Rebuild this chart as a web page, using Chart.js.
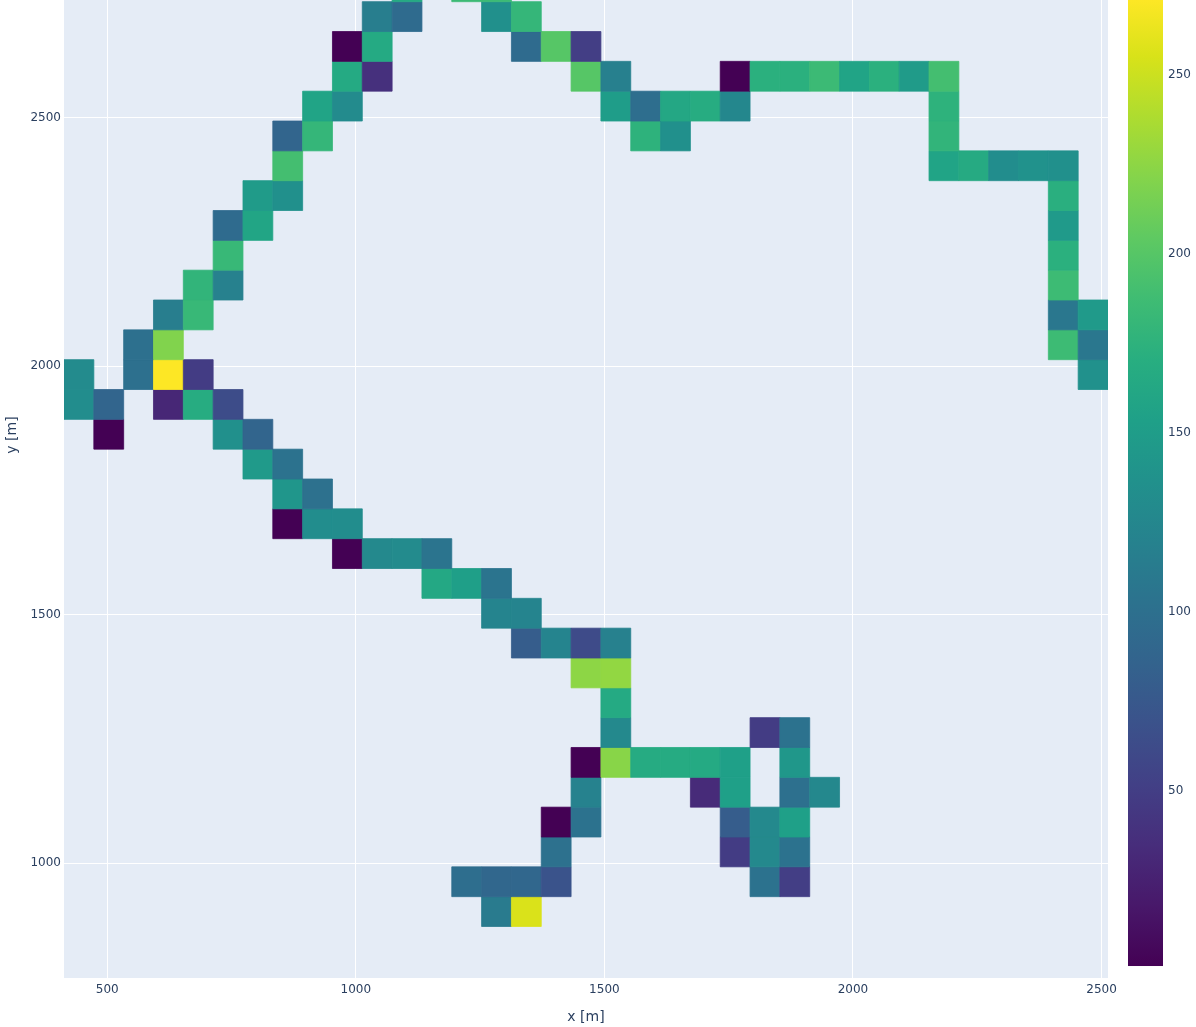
<!DOCTYPE html>
<html>
<head>
<meta charset="utf-8">
<title>Heatmap</title>
<script src="https://cdn.jsdelivr.net/npm/chart.js@4.4.0/dist/chart.umd.min.js"></script>
<style>
    html, body { margin: 0; padding: 0; background: #fff; }
    #wrap { width: 1196px; height: 1027px; }
</style>
</head>
<body>
<div id="wrap"><canvas id="heat" width="1196" height="1027"></canvas></div>
<script>
// Cell centres [m] and values (bottom to top)
const cellX = [
    1283, 1343,
    1223, 1283, 1343, 1403, 1823, 1883,
    1403, 1763, 1823, 1883,
    1403, 1463, 1763, 1823, 1883,
    1463, 1703, 1763, 1883, 1943,
    1463, 1523, 1583, 1643, 1703, 1763, 1883,
    1523, 1823, 1883,
    1523,
    1463, 1523,
    1343, 1403, 1463, 1523,
    1283, 1343,
    1163, 1223, 1283,
    983, 1043, 1103, 1163,
    863, 923, 983,
    863, 923,
    803, 863,
    503, 743, 803,
    443, 503, 623, 683, 743,
    443, 563, 623, 683, 2483,
    563, 623, 2423, 2483,
    623, 683, 2423, 2483,
    683, 743, 2423,
    743, 2423,
    743, 803, 2423,
    803, 863, 2423,
    863, 2183, 2243, 2303, 2363, 2423,
    863, 923, 1583, 1643, 2183,
    923, 983, 1523, 1583, 1643, 1703, 1763, 2183,
    983, 1043, 1463, 1523, 1763, 1823, 1883, 1943, 2003, 2063, 2123, 2183,
    983, 1043, 1343, 1403, 1463,
    1043, 1103, 1283, 1343,
    1103, 1223, 1283
];
const cellY = [
    903, 903,
    963, 963, 963, 963, 963, 963,
    1023, 1023, 1023, 1023,
    1083, 1083, 1083, 1083, 1083,
    1143, 1143, 1143, 1143, 1143,
    1203, 1203, 1203, 1203, 1203, 1203, 1203,
    1263, 1263, 1263,
    1323,
    1383, 1383,
    1443, 1443, 1443, 1443,
    1503, 1503,
    1563, 1563, 1563,
    1623, 1623, 1623, 1623,
    1683, 1683, 1683,
    1743, 1743,
    1803, 1803,
    1863, 1863, 1863,
    1923, 1923, 1923, 1923, 1923,
    1983, 1983, 1983, 1983, 1983,
    2043, 2043, 2043, 2043,
    2103, 2103, 2103, 2103,
    2163, 2163, 2163,
    2223, 2223,
    2283, 2283, 2283,
    2343, 2343, 2343,
    2403, 2403, 2403, 2403, 2403, 2403,
    2463, 2463, 2463, 2463, 2463,
    2523, 2523, 2523, 2523, 2523, 2523, 2523, 2523,
    2583, 2583, 2583, 2583, 2583, 2583, 2583, 2583, 2583, 2583, 2583, 2583,
    2643, 2643, 2643, 2643, 2643,
    2703, 2703, 2703, 2703,
    2763, 2763, 2763
];
const cellZ = [
    112, 256,
    98, 90, 90, 70, 103, 50,
    101, 48, 128, 103,
    1, 103, 80, 128, 154,
    120, 33, 154, 100, 126,
    1, 223, 167, 167, 165, 154, 143,
    128, 48, 103,
    165,
    225, 227,
    80, 122, 62, 118,
    122, 122,
    163, 152, 105,
    1, 128, 130, 105,
    1, 132, 132,
    142, 101,
    147, 103,
    1, 135, 88,
    132, 88, 30, 168, 63,
    130, 100, 271, 48, 137,
    100, 220, 186, 108,
    115, 182, 108, 147,
    178, 118, 186,
    182, 173,
    95, 160, 147,
    148, 135, 172,
    190, 158, 166, 132, 138, 135,
    88, 180, 175, 135, 178,
    158, 130, 150, 98, 162, 168, 125, 175,
    165, 38, 200, 117, 1, 173, 173, 185, 158, 173, 148, 190,
    1, 165, 95, 200, 50,
    115, 95, 135, 180,
    165, 185, 185
];

const xTicks = [500, 1000, 1500, 2000, 2500];
const yTicks = [1000, 1500, 2000, 2500];
const colorTicks = [50, 100, 150, 200, 250];

const zMin = 1;
const zMax = 271;
const cellSize = 60; // metres per cell

// plotly Viridis
const viridisStops = [
    [0, '#440154'], [0.0627, '#48186a'], [0.1255, '#472d7b'], [0.1882, '#424086'],
    [0.2510, '#3b528b'], [0.3137, '#33638d'], [0.3765, '#2c728e'], [0.4392, '#26828e'],
    [0.5020, '#21918c'], [0.5647, '#1fa088'], [0.6275, '#28ae80'], [0.6902, '#3fbc73'],
    [0.7529, '#5ec962'], [0.8157, '#84d44b'], [0.8784, '#addc30'], [0.9412, '#d8e219'],
    [1, '#fde725']
];

function hexRgb(h) {
    return [1, 3, 5].map(i => parseInt(h.slice(i, i + 2), 16));
}

function viridis(z) {
    const t = Math.min(1, Math.max(0, (z - zMin) / (zMax - zMin)));
    for (let k = 1; k < viridisStops.length; k++) {
        if (t <= viridisStops[k][0]) {
            const [t0, c0] = viridisStops[k - 1];
            const [t1, c1] = viridisStops[k];
            const f = (t - t0) / (t1 - t0);
            const a = hexRgb(c0), b = hexRgb(c1);
            const c = a.map((v, i) => Math.round(v + (b[i] - v) * f));
            return `rgb(${c[0]}, ${c[1]}, ${c[2]})`;
        }
    }
    return viridisStops[viridisStops.length - 1][1];
}

// side of one cell in pixels, taken from the x scale
function cellRadius(ctx) {
    const s = ctx.chart.scales.x;
    const side = Math.abs(s.getPixelForValue(cellSize) - s.getPixelForValue(0));
    return side / Math.SQRT2;
}

const textColor = '#2a3f5f';
const tickFont = { family: 'DejaVu Sans', size: 12 };

const plotBackground = {
    id: 'plotBackground',
    beforeDraw(chart) {
        const { ctx, chartArea: a } = chart;
        ctx.save();
        ctx.fillStyle = '#E5ECF6';
        ctx.fillRect(a.left, a.top, a.right - a.left, a.bottom - a.top);
        ctx.restore();
    }
};

const colorBar = {
    id: 'colorBar',
    afterDraw(chart) {
        const { ctx } = chart;
        const cb = chart.scales.c;
        const top = cb.getPixelForValue(zMax);
        const bottom = cb.getPixelForValue(zMin);
        const grad = ctx.createLinearGradient(0, bottom, 0, top);
        viridisStops.forEach(([t, c]) => grad.addColorStop(t, c));
        ctx.save();
        ctx.fillStyle = grad;
        ctx.fillRect(cb.left + 20, top, 35, bottom - top);
        ctx.restore();
    }
};

const yTitle = {
    id: 'yTitle',
    afterDraw(chart) {
        const { ctx } = chart;
        ctx.save();
        ctx.translate(12.5, 435);
        ctx.rotate(-Math.PI / 2);
        ctx.fillStyle = textColor;
        ctx.font = '14px "DejaVu Sans"';
        ctx.textAlign = 'center';
        ctx.textBaseline = 'middle';
        ctx.fillText('y [m]', 0, 0);
        ctx.restore();
    }
};

function noPadding(scale) {
    scale.paddingTop = 0;
    scale.paddingBottom = 0;
    scale.paddingLeft = 0;
    scale.paddingRight = 0;
}

const ctx = document.getElementById('heat').getContext('2d');
new Chart(ctx, {
    type: 'scatter',
    data: {
        datasets: [{
            data: cellX.map((x, i) => ({ x: x, y: cellY[i], z: cellZ[i] })),
            pointStyle: 'rect',
            pointRadius: cellRadius,
            pointHoverRadius: cellRadius,
            pointBackgroundColor: c => viridis(c.raw.z),
            pointBorderColor: c => viridis(c.raw.z),
            pointBorderWidth: 0.8,
            clip: 0
        }]
    },
    options: {
        responsive: false,
        animation: false,
        devicePixelRatio: 1,
        events: [],
        layout: { padding: 0 },
        plugins: {
            legend: { display: false },
            tooltip: { enabled: false }
        },
        scales: {
            x: {
                type: 'linear',
                position: 'bottom',
                min: 413,
                max: 2513,
                afterBuildTicks: s => { s.ticks = xTicks.map(v => ({ value: v })); },
                afterFit: s => { s.height = 49; noPadding(s); },
                grid: { color: '#ffffff', lineWidth: 1, drawTicks: false },
                border: { display: false },
                ticks: {
                    padding: 5,
                    color: textColor,
                    font: tickFont,
                    maxRotation: 0,
                    autoSkip: false,
                    callback: v => String(v)
                },
                title: {
                    display: true,
                    text: 'x [m]',
                    color: textColor,
                    font: { family: 'DejaVu Sans', size: 14 },
                    padding: { top: 0, bottom: 1.5 }
                }
            },
            y: {
                type: 'linear',
                position: 'left',
                min: 769.4,
                max: 2736.4,
                afterBuildTicks: s => { s.ticks = yTicks.map(v => ({ value: v })); },
                afterFit: s => { s.width = 64; noPadding(s); },
                grid: { color: '#ffffff', lineWidth: 1, drawTicks: false },
                border: { display: false },
                ticks: {
                    padding: 3,
                    color: textColor,
                    font: tickFont,
                    autoSkip: false,
                    callback: v => String(v)
                }
            },
            c: {
                type: 'linear',
                position: 'right',
                min: -2.35,
                max: zMax,
                afterBuildTicks: s => { s.ticks = colorTicks.map(v => ({ value: v })); },
                afterFit: s => { s.width = 88; noPadding(s); },
                grid: { display: false, drawTicks: false },
                border: { display: false },
                ticks: {
                    padding: 60,
                    color: textColor,
                    font: tickFont,
                    autoSkip: false,
                    callback: v => String(v)
                }
            }
        }
    },
    plugins: [plotBackground, colorBar, yTitle]
});
</script>
</body>
</html>
